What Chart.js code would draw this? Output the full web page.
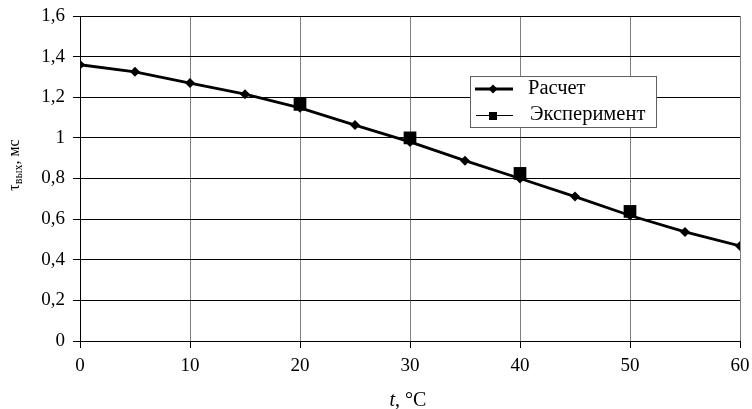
<!DOCTYPE html>
<html>
<head>
<meta charset="utf-8">
<script src="https://cdn.jsdelivr.net/npm/chart.js@4/dist/chart.umd.min.js"></script>
<style>
  html, body { margin: 0; padding: 0; background: #fff; }
  #wrap { width: 752px; height: 409px; }
</style>
</head>
<body>
<div id="wrap"><canvas id="tauChart" width="752" height="409"></canvas></div>
<script>
const temps = [0, 5, 10, 15, 20, 25, 30, 35, 40, 45, 50, 55, 60];
const calcValues = [1.36, 1.325, 1.27, 1.215, 1.148, 1.063, 0.98, 0.888, 0.80, 0.711, 0.618, 0.537, 0.468];
const expTemps = [20, 30, 40, 50];
const expValues = [1.165, 1.0, 0.825, 0.638];
const seriesNames = ["Расчет", "Эксперимент"];

const FONT = "'Liberation Serif', 'Times New Roman', serif";

// axis titles with subscript / italic, drawn by hand
const axisTitles = {
  id: "axisTitles",
  afterDraw(chart) {
    const ctx = chart.ctx;
    ctx.save();
    ctx.fillStyle = "#000";
    ctx.textBaseline = "alphabetic";

    // y title: τ_вых, мс
    const parts = [
      { t: "τ", f: "16px " + FONT, dy: 0 },
      { t: "вых", f: "12px " + FONT, dy: 3 },
      { t: ", мс", f: "16px " + FONT, dy: 0 },
    ];
    let total = 0;
    parts.forEach((p) => { ctx.font = p.f; p.w = ctx.measureText(p.t).width; total += p.w; });
    ctx.translate(19, 165);
    ctx.rotate(-Math.PI / 2);
    let x = -total / 2;
    parts.forEach((p) => { ctx.font = p.f; ctx.fillText(p.t, x, p.dy); x += p.w; });
    ctx.setTransform(1, 0, 0, 1, 0, 0);

    // x title: t, °C
    const cx = 408;
    ctx.font = "italic 20px " + FONT;
    const w1 = ctx.measureText("t").width;
    ctx.font = "20px " + FONT;
    const w2 = ctx.measureText(", °C").width;
    const sx = cx - (w1 + w2) / 2;
    ctx.font = "italic 20px " + FONT;
    ctx.fillText("t", sx, 406);
    ctx.font = "20px " + FONT;
    ctx.fillText(", °C", sx + w1, 406);
    ctx.restore();
  },
};

// legend box inside plot
const boxLegend = {
  id: "boxLegend",
  afterDraw(chart) {
    const ctx = chart.ctx;
    const bx = 470, by = 76, bw = 186, bh = 51;
    ctx.save();
    ctx.fillStyle = "#fff";
    ctx.fillRect(bx, by, bw, bh);
    ctx.strokeStyle = "#606060";
    ctx.lineWidth = 1;
    ctx.strokeRect(bx + 0.5, by + 0.5, bw, bh);

    ctx.fillStyle = "#000";
    ctx.strokeStyle = "#000";
    // row 1
    ctx.lineWidth = 3;
    ctx.beginPath(); ctx.moveTo(475, 89); ctx.lineTo(513, 89); ctx.stroke();
    ctx.beginPath();
    ctx.moveTo(493, 84.5); ctx.lineTo(497.5, 89); ctx.lineTo(493, 93.5); ctx.lineTo(488.5, 89);
    ctx.closePath(); ctx.fill();
    // row 2
    ctx.lineWidth = 1;
    ctx.beginPath(); ctx.moveTo(476, 115.5); ctx.lineTo(513, 115.5); ctx.stroke();
    ctx.fillRect(489, 112, 8, 8);

    ctx.font = "20.5px " + FONT;
    ctx.textBaseline = "middle";
    ctx.fillText(seriesNames[0], 528, 89);
    ctx.fillText(seriesNames[1], 530, 115);
    ctx.restore();
  },
};

new Chart(document.getElementById("tauChart"), {
  type: "scatter",
  data: {
    datasets: [
      {
        label: seriesNames[0],
        data: temps.map((t, i) => ({ x: t, y: calcValues[i] })),
        showLine: true,
        borderColor: "#000",
        backgroundColor: "#000",
        borderWidth: 2.8,
        pointStyle: "rectRot",
        pointRadius: 5,
        pointBorderWidth: 0,
        tension: 0,
      },
      {
        label: seriesNames[1],
        data: expTemps.map((t, i) => ({ x: t, y: expValues[i] })),
        showLine: false,
        borderColor: "#000",
        backgroundColor: "#000",
        pointStyle: "rect",
        pointRadius: 9,
        pointBorderWidth: 0,
      },
    ],
  },
  options: {
    responsive: false,
    animation: false,
    layout: { padding: { top: 16, right: 12, left: 0, bottom: 0 } },
    plugins: { legend: { display: false }, tooltip: { enabled: false } },
    scales: {
      x: {
        type: "linear",
        min: 0,
        max: 60,
        ticks: { stepSize: 10, color: "#000", font: { family: FONT, size: 19 }, padding: 7, maxRotation: 0 },
        grid: { color: "#808080", lineWidth: 1, tickLength: 7, tickColor: "#000" },
        border: { color: "#000", width: 1 },
        afterFit(scale) {
          scale.height = 68;
          scale.paddingLeft = 0;
          scale.paddingRight = 0;
        },
      },
      y: {
        min: 0,
        max: 1.6,
        ticks: {
          stepSize: 0.2,
          color: "#000",
          font: { family: FONT, size: 19 },
          padding: 8,
          callback: (v) => String(Number(v.toFixed(1))).replace(".", ","),
        },
        grid: { color: "#000", lineWidth: 1, tickLength: 7, tickColor: "#000" },
        border: { color: "#000", width: 1 },
        afterFit(scale) {
          scale.width = 80;
          scale.paddingTop = 0;
          scale.paddingBottom = 0;
        },
      },
    },
  },
  plugins: [axisTitles, boxLegend],
});
</script>
</body>
</html>
